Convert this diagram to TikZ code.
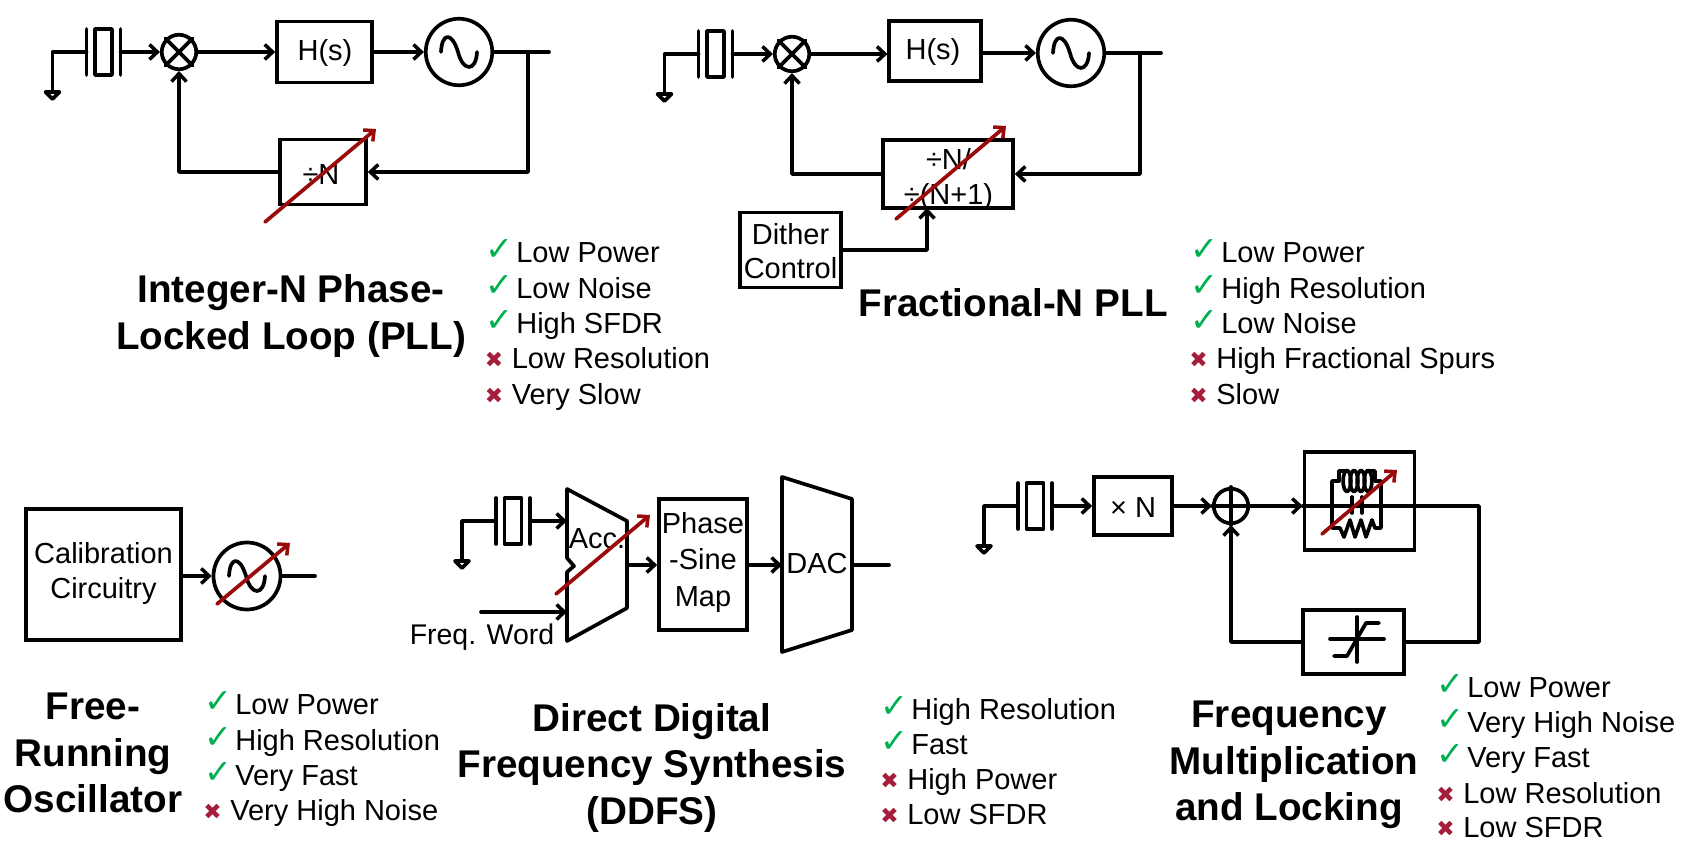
\documentclass[tikz,border=0pt]{standalone}
\usepackage{fontspec}
\setmainfont{Liberation Sans}
\newfontfamily\symfont{DejaVu Sans}
\usetikzlibrary{arrows.meta}
\definecolor{tunered}{RGB}{155,10,10}
\definecolor{goodgreen}{RGB}{0,176,80}
\definecolor{badred}{RGB}{165,30,60}
\tikzset{
    >={Straight Barb[length=4.5pt,width=8.5pt,line width=2pt]},
    wire/.style={line width=2.1pt, line cap=round, line join=round},
    flow/.style={wire, ->},
    tune/.style={line width=2.1pt, line cap=round, color=tunered, ->},
    blockbox/.style={draw, line width=2.1pt, inner sep=0pt},
    joint/.style={draw, circle, line width=2.1pt, inner sep=0pt, minimum size=0.69cm},
    vco/.style={draw, circle, line width=2.1pt, inner sep=0pt, minimum size=1.33cm},
    plain/.style={inner sep=0pt, align=center, font=\fontsize{16.5}{19.6}\selectfont},
    title/.style={inner sep=0pt, align=center, font=\fontsize{22}{26.3}\selectfont\bfseries},
    itemtext/.style={inner sep=0pt, anchor=base west, font=\fontsize{16.5}{19.9}\selectfont},
    goodmark/.style={inner sep=0pt, anchor=base west, text=goodgreen, font=\symfont\fontsize{19}{18}\selectfont},
    badmark/.style={inner sep=0pt, anchor=base west, text=badred, font=\symfont\fontsize{12.5}{18}\selectfont},
}
% crystal with its ground: name, x, y
\newcommand{\xtal}[3]{
    \coordinate (#1l) at (#2-17,#3);
    \coordinate (#1r) at (#2+17,#3);
    \draw[wire] (#2-17,#3-23) -- (#2-17,#3+23);
    \draw[wire] (#2+17,#3-23) -- (#2+17,#3+23);
    \draw[wire] (#2-8.5,#3-23) rectangle (#2+8.5,#3+23);
    \draw[wire] (#1l) -- (#2-51,#3) -- (#2-51,#3+40);
    \draw[wire] (#2-58,#3+40) -- (#2-44,#3+40) -- (#2-51,#3+47) -- cycle;
}
% sine inside a source
\newcommand{\sinewave}[2]{
    \draw[wire] (#1-18,#2) .. controls (#1-17,#2-20) and (#1-7,#2-20) .. (#1-1,#2)
        .. controls (#1+4,#2+20) and (#1+17,#2+20) .. (#1+18,#2);
}
% list items
\newcommand{\good}[4]{
    \node[itemtext] (#1) at (#2,#3) {#4};
    \node[goodmark] (#1m) at (#2-31,#3-2) {✓};
}
\newcommand{\bad}[4]{
    \node[itemtext] (#1) at (#2,#3) {#4};
    \node[badmark] (#1m) at (#2-27,#3-1) {✖};
}
\begin{document}
\begin{tikzpicture}[x=0.02cm,y=-0.02cm]
    \useasboundingbox (0,0) rectangle (1682,857);

    % Integer-N PLL
    \xtal{xa}{103.5}{52}
    \node[joint] (mixa) at (179,52) {};
    \draw[wire] (mixa.45) -- (mixa.225) (mixa.135) -- (mixa.315);
    \node[blockbox, minimum width=1.9cm, minimum height=1.22cm] (hsa) at (324.5,52) {};
    \node[plain] (hsatxt) at (325,53.5) {H(s)};
    \node[vco] (vcoa) at (459,52) {};
    \sinewave{459}{52}
    \node[blockbox, minimum width=1.72cm, minimum height=1.3cm] (diva) at (323,172) {};
    \node[plain] (divatxt) at (321,175) {÷N};
    \coordinate (tapa) at (528,52);
    \coordinate (outa) at (549,52);
    \draw[flow] (xar) -- (mixa);
    \draw[flow] (mixa) -- (hsa);
    \draw[flow] (hsa) -- (vcoa);
    \draw[wire] (vcoa) -- (outa);
    \draw[flow] (tapa) |- (diva);
    \draw[flow] (diva) -| (mixa);
    \draw[tune] (265,222) -- (376,129);
    \node[title] (tita) at (291,316) {Integer-N Phase-\\Locked Loop (PLL)};
    \foreach \n/\y/\txt in {a1/263/Low Power, a2/299/Low Noise, a3/334/High SFDR} {\good{\n}{516}{\y}{\txt}}
    \foreach \n/\y/\txt in {a4/369/Low Resolution, a5/405/Very Slow} {\bad{\n}{511.5}{\y}{\txt}}

    % Fractional-N PLL
    \xtal{xb}{715.5}{54}
    \node[joint] (mixb) at (792,54) {};
    \draw[wire] (mixb.45) -- (mixb.225) (mixb.135) -- (mixb.315);
    \node[blockbox, minimum width=1.83cm, minimum height=1.2cm] (hsb) at (935,51) {};
    \node[plain] (hsbtxt) at (933,52.5) {H(s)};
    \node[vco] (vcob) at (1071,53) {};
    \sinewave{1071}{53}
    \node[blockbox, minimum width=2.6cm, minimum height=1.36cm] (divb) at (948,174) {};
    \node[plain] (divbtxt) at (948.5,179.5) {÷N/\\÷(N+1)};
    \node[blockbox, minimum width=2.02cm, minimum height=1.5cm] (dith) at (790.5,250) {};
    \node[plain] (dithtxt) at (790.5,251) {Dither\\Control};
    \coordinate (tapb) at (1140,53);
    \coordinate (outb) at (1161,53);
    \coordinate (dithin) at (927,208);
    \draw[flow] (xbr) -- (mixb);
    \draw[flow] (mixb) -- (mixb -| hsb.west);
    \draw[flow] (hsb.east |- vcob) -- (vcob);
    \draw[wire] (vcob) -- (outb);
    \draw[flow] (tapb) |- (divb);
    \draw[flow] (divb) -| (mixb);
    \draw[flow] (dith) -| (dithin);
    \draw[tune] (896,219) -- (1006,126);
    \node[title] (titb) at (1013,303) {Fractional-N PLL};
    \foreach \n/\y/\txt in {b1/263/Low Power, b2/299/High Resolution, b3/334/Low Noise} {\good{\n}{1221}{\y}{\txt}}
    \foreach \n/\y/\txt in {b4/369/High Fractional Spurs, b5/405/Slow} {\bad{\n}{1216}{\y}{\txt}}

    % Free-running oscillator
    \node[blockbox, minimum width=3.1cm, minimum height=2.62cm] (cal) at (103.5,574.5) {};
    \node[plain] (caltxt) at (103.5,573.5) {Calibration\\Circuitry};
    \node[vco, minimum size=1.34cm] (vcoc) at (247,576) {};
    \sinewave{247}{576}
    \coordinate (outc) at (315,576);
    \draw[flow] (cal.east |- vcoc) -- (vcoc);
    \draw[wire] (vcoc) -- (outc);
    \draw[tune] (217,604) -- (290,543);
    \node[title] (titc) at (93,753) {Free-\\Running\\Oscillator};
    \foreach \n/\y/\txt in {c1/714/Low Power, c2/750/High Resolution, c3/785/Very Fast} {\good{\n}{235}{\y}{\txt}}
    \bad{c4}{230}{820}{Very High Noise}

    % Direct digital frequency synthesis
    \xtal{xd}{513}{521}
    \coordinate (accin) at (567,521);
    \coordinate (wordin) at (567,612);
    \coordinate (wordst) at (481,612);
    \coordinate (accout) at (627,565);
    \coordinate (dacin) at (782,565);
    \coordinate (dacout) at (852,565);
    \coordinate (outd) at (889,565);
    \draw[wire] (567,489) -- (627,521) -- (627,608) -- (567,641) -- (567,572) -- (574,566) -- (567,558) -- cycle;
    \draw[wire] (782,477) -- (852,499) -- (852,630) -- (782,652) -- cycle;
    \node[plain] (acc) at (597,539) {Acc.};
    \node[plain] (dac) at (817,564) {DAC};
    \node[blockbox, minimum width=1.76cm, minimum height=2.62cm] (map) at (703,564.5) {};
    \node[plain, font=\fontsize{16.5}{20.6}\selectfont] (maptxt) at (703,562.5) {Phase\\-Sine\\Map};
    \node[plain, font=\fontsize{16.2}{20}\selectfont] (word) at (482,637) {Freq. Word};
    \draw[flow] (xdr) -- (accin);
    \draw[flow] (wordst) -- (wordin);
    \draw[flow] (accout) -- (accout -| map.west);
    \draw[flow] (map.east |- dacin) -- (dacin);
    \draw[wire] (dacout) -- (outd);
    \draw[tune] (556,594) -- (650,515);
    \node[title] (titd) at (652,768) {Direct Digital\\Frequency Synthesis\\(DDFS)};
    \foreach \n/\y/\txt in {d1/719/High Resolution, d2/754/Fast} {\good{\n}{911}{\y}{\txt}}
    \foreach \n/\y/\txt in {d3/789/High Power, d4/824/Low SFDR} {\bad{\n}{907}{\y}{\txt}}

    % Frequency multiplication and locking
    \xtal{xe}{1035}{506}
    \node[blockbox, minimum width=1.56cm, minimum height=1.16cm] (mult) at (1133,506) {};
    \node[plain] (multtxt) at (1133,508) {× N};
    \node[joint] (add) at (1231,506) {};
    \draw[wire] (add.west) -- (add.east) (add.north) -- (add.south);
    \node[blockbox, minimum width=2.2cm, minimum height=1.96cm] (tank) at (1359.5,501) {};
    \node[blockbox, minimum width=2.01cm, minimum height=1.28cm] (lim) at (1353.5,642) {};
    \coordinate (turn) at (1479,506);
    \draw[flow] (xer) -- (mult);
    \draw[flow] (mult) -- (add);
    \draw[flow] (add) -- (add -| tank.west);
    \draw[wire] (add -| tank.west) -- (turn) |- (lim);
    \draw[flow] (lim) -| (add);
    % tank inside the box
    \draw[wire] (1352,497) -- (1352,513) (1362,497) -- (1362,513);
    \draw[wire] (1339,481) -- (1332,481) -- (1332,528) -- (1340,528) -- (1344,537) -- (1350,520) -- (1355,537)
        -- (1361,520) -- (1366,537) -- (1372,520) -- (1375,528) -- (1381,528) -- (1381,481) -- (1375,481);
    \draw[wire] (1339,481) -- (1339,471) -- (1346,471);
    \draw[wire] (1368,471) -- (1375,471) -- (1375,481);
    \foreach \x in {1347,1354,1361,1368} {
        \draw[wire] (\x,481) ellipse (3.9 and 10.5);
    }
    \draw[tune] (1322,534) -- (1397,470);
    % limiter curve
    \draw[wire] (1330,639) -- (1384,639);
    \draw[wire] (1357,617) -- (1357,662);
    \draw[wire] (1334,656) -- (1347,656) -- (1366,623) -- (1379,623);
    \node[title] (tite) at (1294,765) {Frequency\hspace*{5.6pt}\\Multiplication\\and Locking\hspace*{5.6pt}};
    \foreach \n/\y/\txt in {e1/697/Low Power, e2/732/Very High Noise, e3/767/Very Fast} {\good{\n}{1467}{\y}{\txt}}
    \foreach \n/\y/\txt in {e4/803/Low Resolution, e5/837/Low SFDR} {\bad{\n}{1463}{\y}{\txt}}
\end{tikzpicture}
\end{document}
